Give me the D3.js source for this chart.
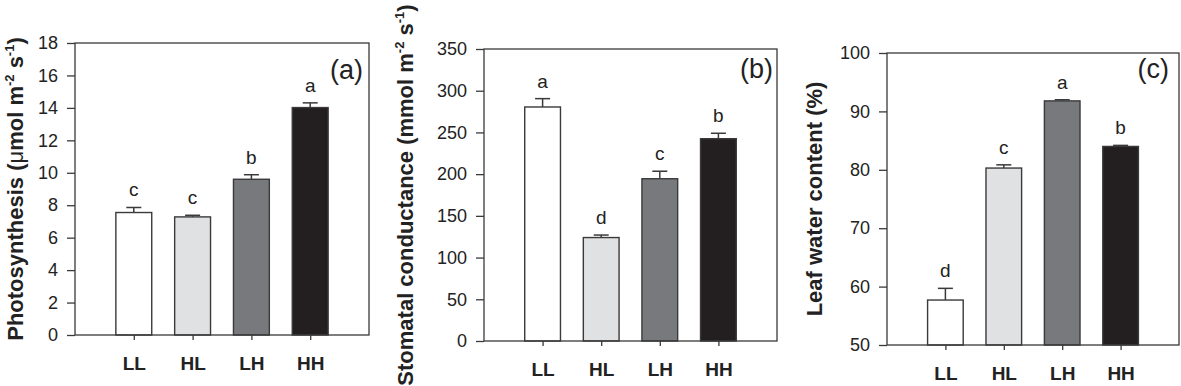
<!DOCTYPE html>
<html>
<head>
<meta charset="utf-8">
<script src="https://cdn.jsdelivr.net/npm/d3@7"></script>
<style>
  body { margin: 0; background: #fff; }
  svg { display: block; font-family: "Liberation Sans", Arial, sans-serif; }
</style>
</head>
<body>
<div id="chart"></div>
<script>
// treatments
const categories = ['LL', 'HL', 'LH', 'HH'];
const barColors = ['#ffffff', '#e0e1e3', '#78797d', '#231f20'];

// (a) photosynthesis
const photoMean = [7.55, 7.28, 9.6, 14.02];
const photoSE = [0.31, 0.1, 0.28, 0.29];
const photoLetters = ['c', 'c', 'b', 'a'];
const photoTicks = [0, 2, 4, 6, 8, 10, 12, 14, 16, 18];

// (b) stomatal conductance
const condMean = [280.5, 124, 194.5, 242.5];
const condSE = [10, 3, 9, 6.5];
const condLetters = ['a', 'd', 'c', 'b'];
const condTicks = [0, 50, 100, 150, 200, 250, 300, 350];

// (c) leaf water content
const waterMean = [57.7, 80.3, 91.8, 84.0];
const waterSE = [2.0, 0.55, 0.2, 0.18];
const waterLetters = ['d', 'c', 'a', 'b'];
const waterTicks = [50, 60, 70, 80, 90, 100];

const svg = d3.select('#chart').append('svg')
    .attr('width', 1181)
    .attr('height', 386);

class BarPanel {
  constructor(_config, _data) {
    this.config = _config;
    this.data = _data;
    this.initVis();
  }

  initVis() {
    const vis = this;
    const c = vis.config;
    const stroke = '#3a3a3a';

    vis.width = c.right - c.left;
    vis.height = c.bottom - c.top;

    vis.g = svg.append('g')
        .attr('transform', `translate(${c.left}, ${c.top})`);

    vis.xScale = d3.scalePoint()
        .domain(categories)
        .range([0, vis.width])
        .padding(1);

    vis.yScale = d3.scaleLinear()
        .domain(c.domain)
        .range([vis.height, 0]);

    const barW = vis.xScale.step() * 0.61;

    // y axis
    const yAxis = d3.axisLeft(vis.yScale)
        .tickValues(c.ticks)
        .tickSize(8)
        .tickPadding(9);
    const yg = vis.g.append('g').call(yAxis);
    yg.select('.domain').remove();
    yg.selectAll('line').attr('stroke', stroke).attr('stroke-width', 1.3);
    yg.selectAll('text')
        .attr('font-size', 18)
        .attr('fill', '#222')
        .attr('font-family', '"Liberation Sans", Arial, sans-serif');

    // x axis
    const xAxis = d3.axisBottom(vis.xScale)
        .tickSize(5)
        .tickPadding(17);
    const xg = vis.g.append('g')
        .attr('transform', `translate(0, ${vis.height})`)
        .call(xAxis);
    xg.select('.domain').remove();
    xg.selectAll('line').attr('stroke', stroke).attr('stroke-width', 1.3);
    xg.selectAll('text')
        .attr('font-size', 19)
        .attr('font-weight', 'bold')
        .attr('fill', '#222')
        .attr('font-family', '"Liberation Sans", Arial, sans-serif');

    // error bars (upper half only)
    const err = vis.g.selectAll('.err')
        .data(vis.data)
        .join('g')
        .attr('class', 'err')
        .attr('stroke', stroke)
        .attr('stroke-width', 1.5);
    err.append('line')
        .attr('x1', d => vis.xScale(d.cat))
        .attr('x2', d => vis.xScale(d.cat))
        .attr('y1', d => vis.yScale(d.mean))
        .attr('y2', d => vis.yScale(d.mean + d.se));
    err.append('line')
        .attr('x1', d => vis.xScale(d.cat) - 7.5)
        .attr('x2', d => vis.xScale(d.cat) + 7.5)
        .attr('y1', d => vis.yScale(d.mean + d.se))
        .attr('y2', d => vis.yScale(d.mean + d.se));

    // bars
    vis.g.selectAll('.bar')
        .data(vis.data)
        .join('rect')
        .attr('class', 'bar')
        .attr('x', d => vis.xScale(d.cat) - barW / 2)
        .attr('width', barW)
        .attr('y', d => vis.yScale(d.mean))
        .attr('height', d => vis.height - vis.yScale(d.mean))
        .attr('fill', d => d.color)
        .attr('stroke', stroke)
        .attr('stroke-width', 1.4);

    // significance letters
    vis.g.selectAll('.sig')
        .data(vis.data)
        .join('text')
        .attr('class', 'sig')
        .attr('x', d => vis.xScale(d.cat))
        .attr('y', d => vis.yScale(d.mean + d.se) - 11)
        .attr('text-anchor', 'middle')
        .attr('font-size', 19)
        .attr('fill', '#222')
        .text(d => d.letter);

    // frame
    vis.g.append('rect')
        .attr('width', vis.width)
        .attr('height', vis.height)
        .attr('fill', 'none')
        .attr('stroke', stroke)
        .attr('stroke-width', 1.3);

    // panel label
    vis.g.append('text')
        .attr('x', vis.width - c.tagGap)
        .attr('y', c.tagY - c.top)
        .attr('text-anchor', 'end')
        .attr('font-size', 27)
        .attr('fill', '#222')
        .text(c.tag);

    // y title
    const title = svg.append('text')
        .attr('transform', `translate(${c.titleX}, ${c.top + vis.height / 2}) rotate(-90)`)
        .attr('text-anchor', 'middle')
        .attr('font-size', 22)
        .attr('font-weight', 'bold')
        .attr('fill', '#222');
    c.title.forEach(part => {
      const t = title.append('tspan').text(part.t);
      if (part.sup) t.attr('font-size', 13).attr('dy', -9);
      if (part.down) t.attr('dy', 9);
      if (part.normal) t.attr('font-weight', 'normal');
    });
  }
}

function rows(means, ses, letters) {
  return categories.map((cat, i) => ({
    cat: cat, mean: means[i], se: ses[i], letter: letters[i], color: barColors[i]
  }));
}

new BarPanel({
  left: 75, right: 369, top: 43, bottom: 335,
  domain: [0, 18], ticks: photoTicks,
  tag: '(a)', tagGap: 6, tagY: 79, titleX: 23,
  title: [
    { t: 'Photosynthesis (' }, { t: 'μ', normal: true }, { t: 'mol m' },
    { t: '-2', sup: true }, { t: ' s', down: true }, { t: '-1', sup: true },
    { t: ')', down: true }
  ]
}, rows(photoMean, photoSE, photoLetters));

new BarPanel({
  left: 484, right: 777, top: 49, bottom: 341,
  domain: [0, 350], ticks: condTicks,
  tag: '(b)', tagGap: 4, tagY: 78, titleX: 413,
  title: [
    { t: 'Stomatal conductance (mmol m' },
    { t: '-2', sup: true }, { t: ' s', down: true }, { t: '-1', sup: true },
    { t: ')', down: true }
  ]
}, rows(condMean, condSE, condLetters));

new BarPanel({
  left: 887, right: 1179, top: 53, bottom: 345,
  domain: [50, 100], ticks: waterTicks,
  tag: '(c)', tagGap: 10, tagY: 78, titleX: 822,
  title: [{ t: 'Leaf water content (%)' }]
}, rows(waterMean, waterSE, waterLetters));
</script>
</body>
</html>
